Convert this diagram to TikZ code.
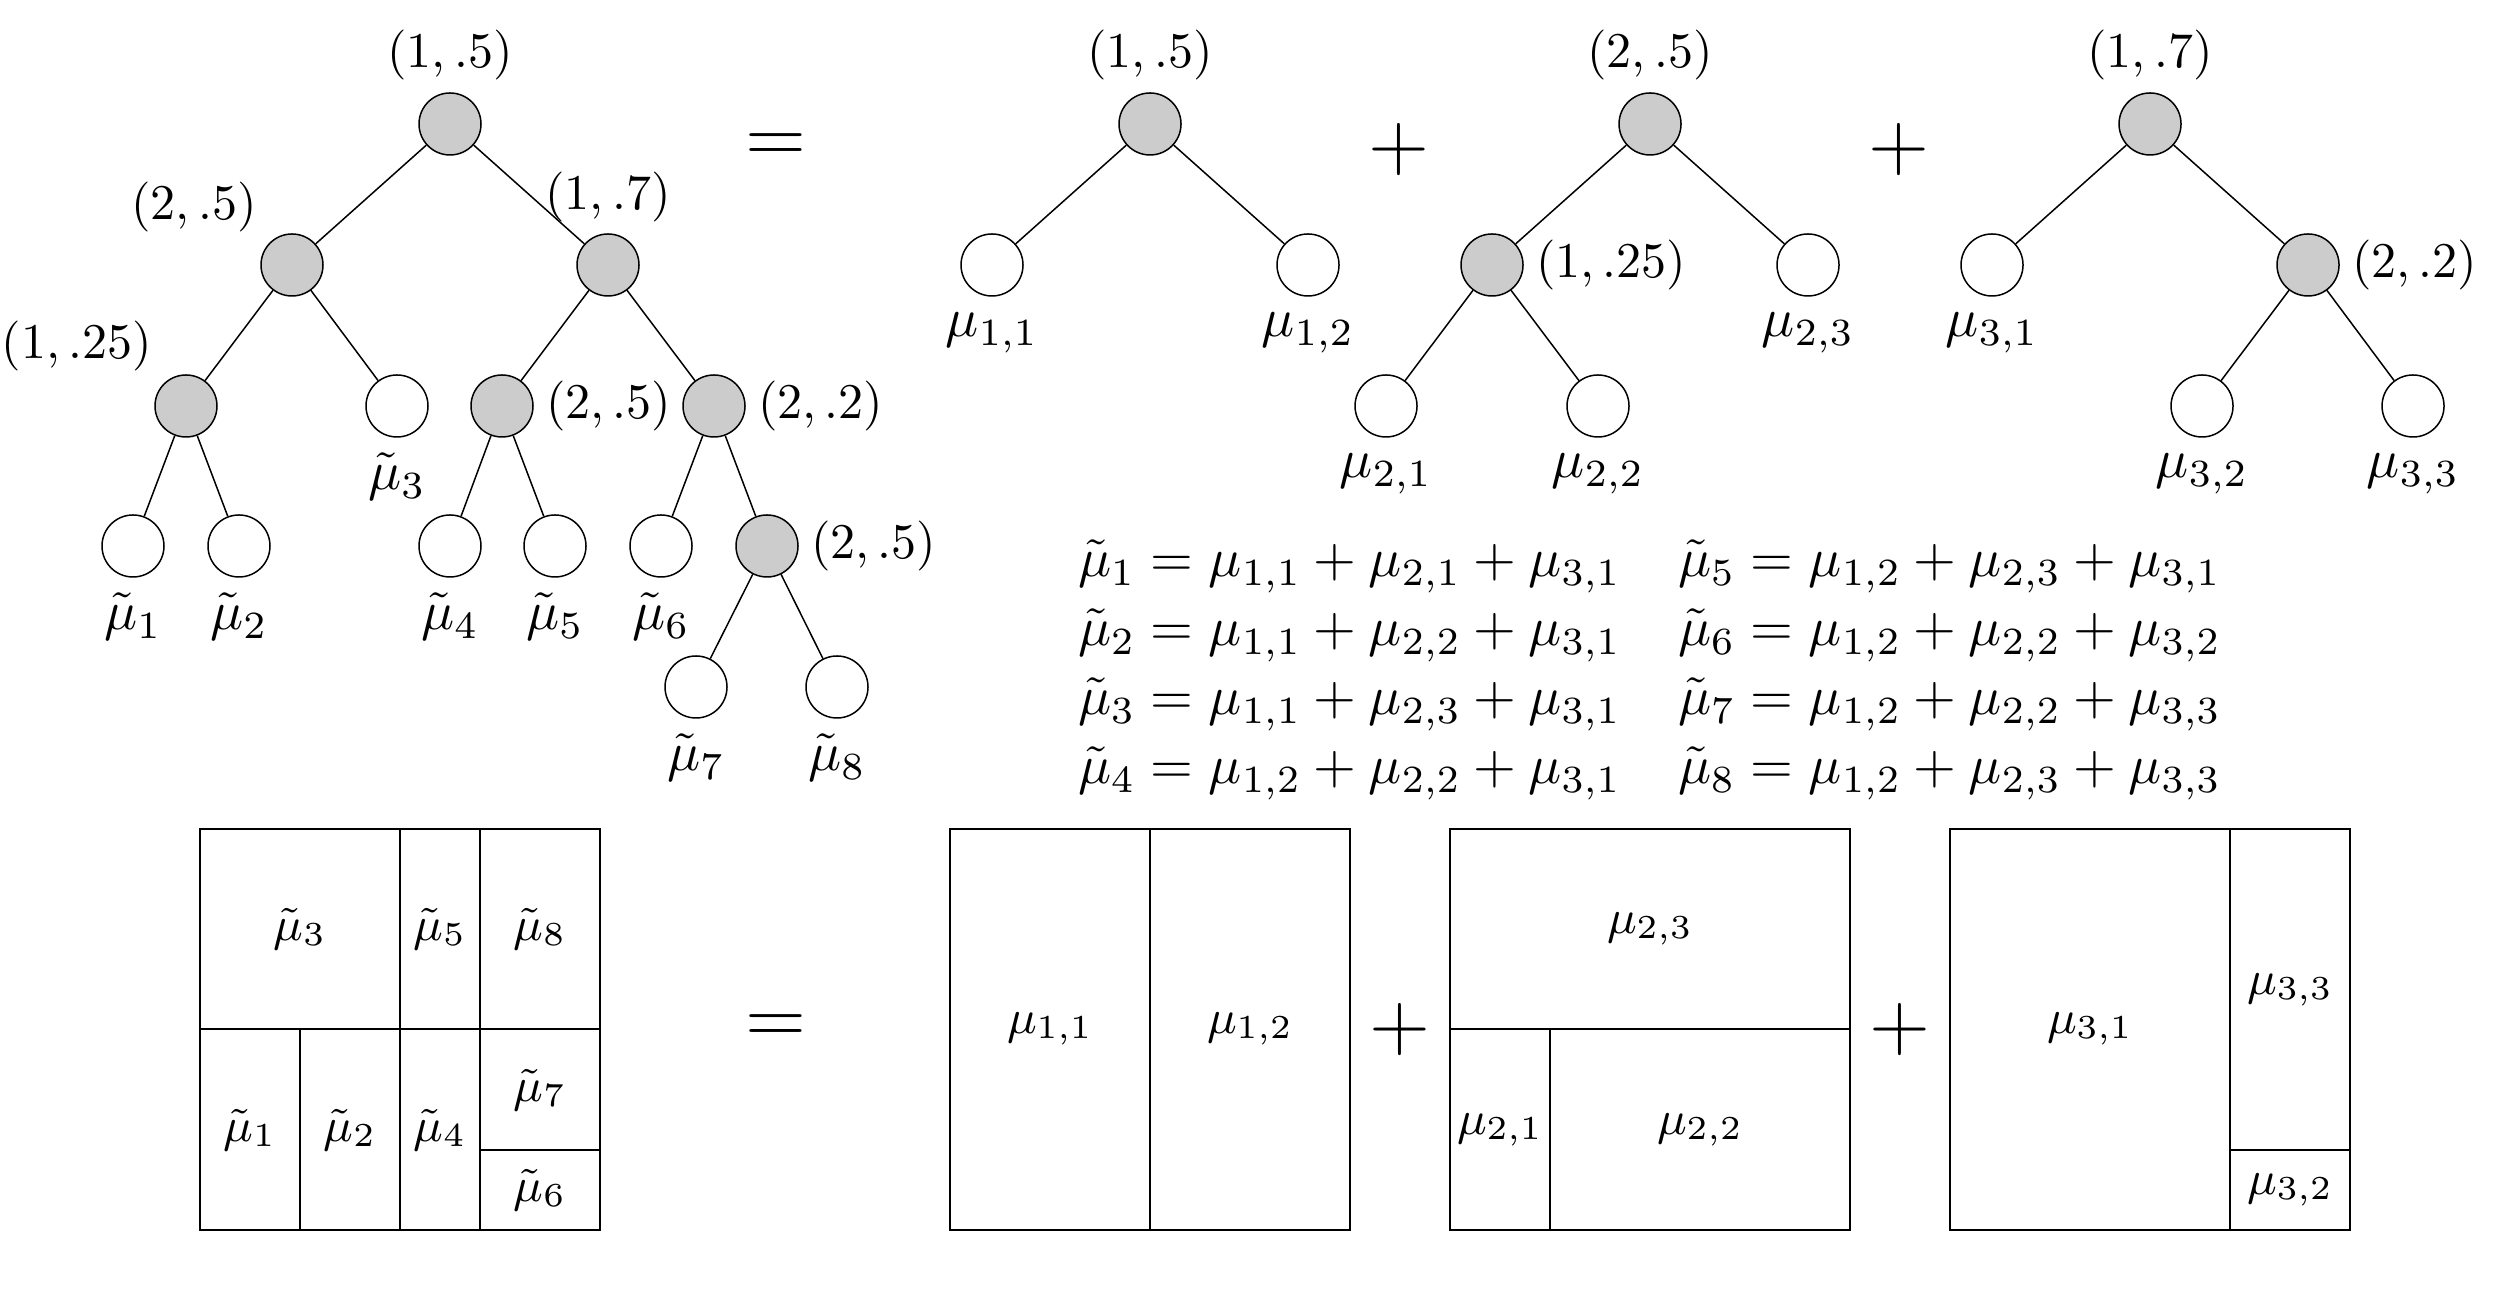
\RequirePackage{fix-cm}
\documentclass[tikz,border=0pt]{standalone}
\begin{document}
\begin{tikzpicture}[x=0.2pt,y=-0.2pt,
  nd/.style={circle,draw,line width=0.3pt,minimum size=12.4pt,inner sep=0pt,fill=white},
  gnd/.style={nd,fill=black!20},
  edge/.style={line width=0.3pt},
  split/.style={inner sep=0pt,font=\fontsize{10}{12}\selectfont},
  lbl/.style={inner sep=0pt,anchor=base,font=\fontsize{11}{13}\selectfont},
  eqn/.style={inner sep=0pt,anchor=base west,font=\fontsize{11}{13}\selectfont},
  big/.style={inner sep=0pt,anchor=base,font=\fontsize{16}{18}\selectfont},
  cell/.style={inner sep=0pt,font=\fontsize{9.6}{11}\selectfont},
  box/.style={line width=0.35pt}]
\useasboundingbox (0,0) rectangle (2500,1300);

% ---------- left tree ----------
\node[gnd] (r)  at (450,124) {};
\node[gnd] (a)  at (292,265) {};
\node[gnd] (b)  at (608,265) {};
\node[gnd] (c)  at (186,406) {};
\node[nd]  (l3) at (397,406) {};
\node[gnd] (d)  at (502,406) {};
\node[gnd] (e)  at (714,406) {};
\node[nd]  (l1) at (133,546) {};
\node[nd]  (l2) at (239,546) {};
\node[nd]  (l4) at (450,546) {};
\node[nd]  (l5) at (555,546) {};
\node[nd]  (l6) at (661,546) {};
\node[gnd] (f)  at (767,546) {};
\node[nd]  (l7) at (696,687) {};
\node[nd]  (l8) at (837,687) {};

\draw[edge] (r) -- (a);  \draw[edge] (r) -- (b);
\draw[edge] (a) -- (c);  \draw[edge] (a) -- (l3);
\draw[edge] (b) -- (d);  \draw[edge] (b) -- (e);
\draw[edge] (c) -- (l1); \draw[edge] (c) -- (l2);
\draw[edge] (d) -- (l4); \draw[edge] (d) -- (l5);
\draw[edge] (e) -- (l6); \draw[edge] (e) -- (f);
\draw[edge] (f) -- (l7); \draw[edge] (f) -- (l8);

\node[split] (sr) at (450,55) {$(1, .5)$};
\node[split] (sa) at (194,207) {$(2, .5)$};
\node[split] (sb) at (608,197) {$(1, .7)$};
\node[split] (sc) at (77,346) {$(1, .25)$};
\node[split,anchor=west] (sd) at (545,406) {$(2, .5)$};
\node[split,anchor=west] (se) at (757,406) {$(2, .2)$};
\node[split,anchor=west] (sf) at (810,546) {$(2, .5)$};

\node[lbl] (t1) at (133,630) {$\tilde\mu_1$};
\node[lbl] (t2) at (239,630) {$\tilde\mu_2$};
\node[lbl] (t3) at (397,490) {$\tilde\mu_3$};
\node[lbl] (t4) at (450,630) {$\tilde\mu_4$};
\node[lbl] (t5) at (555,630) {$\tilde\mu_5$};
\node[lbl] (t6) at (661,630) {$\tilde\mu_6$};
\node[lbl] (t7) at (696,771) {$\tilde\mu_7$};
\node[lbl] (t8) at (837,771) {$\tilde\mu_8$};

\node[big] (eqT) at (776,163) {$=$};

% ---------- tree 1 ----------
\node[gnd] (r1)  at (1150,124) {};
\node[nd]  (p11) at (992,265) {};
\node[nd]  (p12) at (1308,265) {};
\draw[edge] (r1) -- (p11); \draw[edge] (r1) -- (p12);
\node[split] (s1) at (1150,55) {$(1, .5)$};
\node[lbl] (q11) at (992,337) {$\mu_{1,1}$};
\node[lbl] (q12) at (1308,337) {$\mu_{1,2}$};

\node[big] (plT1) at (1399,170) {$+$};

% ---------- tree 2 ----------
\node[gnd] (r2)  at (1650,124) {};
\node[gnd] (g2)  at (1492,265) {};
\node[nd]  (p23) at (1808,265) {};
\node[nd]  (p21) at (1386,406) {};
\node[nd]  (p22) at (1598,406) {};
\draw[edge] (r2) -- (g2); \draw[edge] (r2) -- (p23);
\draw[edge] (g2) -- (p21); \draw[edge] (g2) -- (p22);
\node[split] (s2) at (1650,55) {$(2, .5)$};
\node[split,anchor=west] (s2b) at (1535,265) {$(1, .25)$};
\node[lbl] (q23) at (1808,337) {$\mu_{2,3}$};
\node[lbl] (q21) at (1386,478) {$\mu_{2,1}$};
\node[lbl] (q22) at (1598,478) {$\mu_{2,2}$};

\node[big] (plT2) at (1899,170) {$+$};

% ---------- tree 3 ----------
\node[gnd] (r3)  at (2150,124) {};
\node[nd]  (p31) at (1992,265) {};
\node[gnd] (g3)  at (2308,265) {};
\node[nd]  (p32) at (2202,406) {};
\node[nd]  (p33) at (2413,406) {};
\draw[edge] (r3) -- (p31); \draw[edge] (r3) -- (g3);
\draw[edge] (g3) -- (p32); \draw[edge] (g3) -- (p33);
\node[split] (s3) at (2150,55) {$(1, .7)$};
\node[split,anchor=west] (s3b) at (2351,265) {$(2, .2)$};
\node[lbl] (q31) at (1992,337) {$\mu_{3,1}$};
\node[lbl] (q32) at (2202,478) {$\mu_{3,2}$};
\node[lbl] (q33) at (2413,478) {$\mu_{3,3}$};

% ---------- equations ----------
\node[eqn] (e1) at (1077,577) {$\tilde\mu_1 = \mu_{1,1} + \mu_{2,1} + \mu_{3,1}$};
\node[eqn] (e2) at (1077,646) {$\tilde\mu_2 = \mu_{1,1} + \mu_{2,2} + \mu_{3,1}$};
\node[eqn] (e3) at (1077,715) {$\tilde\mu_3 = \mu_{1,1} + \mu_{2,3} + \mu_{3,1}$};
\node[eqn] (e4) at (1077,784) {$\tilde\mu_4 = \mu_{1,2} + \mu_{2,2} + \mu_{3,1}$};
\node[eqn] (e5) at (1677,577) {$\tilde\mu_5 = \mu_{1,2} + \mu_{2,3} + \mu_{3,1}$};
\node[eqn] (e6) at (1677,646) {$\tilde\mu_6 = \mu_{1,2} + \mu_{2,2} + \mu_{3,2}$};
\node[eqn] (e7) at (1677,715) {$\tilde\mu_7 = \mu_{1,2} + \mu_{2,2} + \mu_{3,3}$};
\node[eqn] (e8) at (1677,784) {$\tilde\mu_8 = \mu_{1,2} + \mu_{2,3} + \mu_{3,3}$};

% ---------- left box ----------
\draw[box] (200,829) rectangle (600,1230);
\draw[box] (200,1029) -- (600,1029);
\draw[box] (400,829) -- (400,1230);
\draw[box] (480,829) -- (480,1230);
\draw[box] (300,1029) -- (300,1230);
\draw[box] (480,1150) -- (600,1150);
\node[cell] (b3) at (300,929) {$\tilde\mu_3$};
\node[cell] (b5) at (440,929) {$\tilde\mu_5$};
\node[cell] (b8) at (540,929) {$\tilde\mu_8$};
\node[cell] (b1) at (250,1130) {$\tilde\mu_1$};
\node[cell] (b2) at (350,1130) {$\tilde\mu_2$};
\node[cell] (b4) at (440,1130) {$\tilde\mu_4$};
\node[cell] (b7) at (540,1090) {$\tilde\mu_7$};
\node[cell] (b6) at (540,1190) {$\tilde\mu_6$};

\node[big] (eqB) at (776,1044) {$=$};

% ---------- box 1 ----------
\draw[box] (950,829) rectangle (1350,1230);
\draw[box] (1150,829) -- (1150,1230);
\node[cell] (c11) at (1050,1029) {$\mu_{1,1}$};
\node[cell] (c12) at (1250,1029) {$\mu_{1,2}$};

\node[big] (plB1) at (1400,1050) {$+$};

% ---------- box 2 ----------
\draw[box] (1450,829) rectangle (1850,1230);
\draw[box] (1450,1029) -- (1850,1029);
\draw[box] (1550,1029) -- (1550,1230);
\node[cell] (c23) at (1650,929) {$\mu_{2,3}$};
\node[cell] (c21) at (1500,1130) {$\mu_{2,1}$};
\node[cell] (c22) at (1700,1130) {$\mu_{2,2}$};

\node[big] (plB2) at (1900,1050) {$+$};

% ---------- box 3 ----------
\draw[box] (1950,829) rectangle (2350,1230);
\draw[box] (2230,829) -- (2230,1230);
\draw[box] (2230,1150) -- (2350,1150);
\node[cell] (c31) at (2090,1029) {$\mu_{3,1}$};
\node[cell] (c33) at (2290,990) {$\mu_{3,3}$};
\node[cell] (c32) at (2290,1190) {$\mu_{3,2}$};
\end{tikzpicture}
\end{document}
